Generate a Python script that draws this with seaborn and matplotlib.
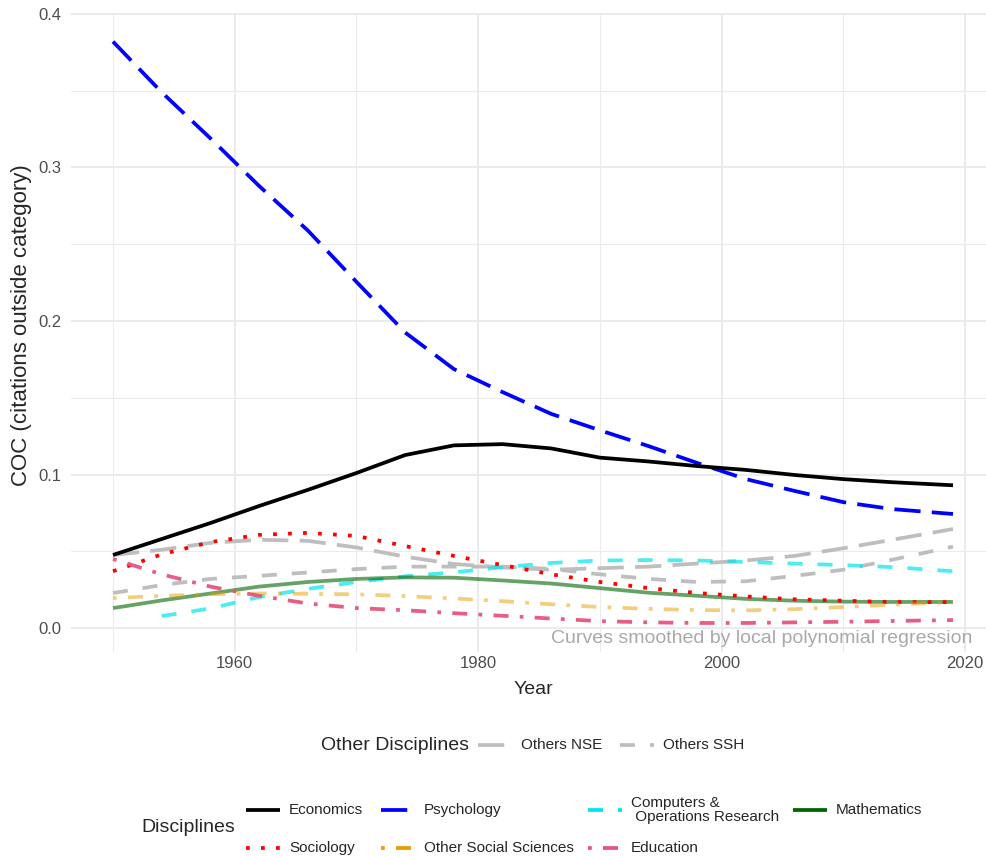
import matplotlib
matplotlib.use("Agg")
import numpy as np
import pandas as pd
import matplotlib.pyplot as plt
import seaborn as sns

# smoothed COC curves
years = [1950, 1954, 1958, 1962, 1966, 1970, 1974, 1978, 1982, 1986,
         1990, 1994, 1998, 2002, 2006, 2010, 2014, 2019]

economics = [0.0476, 0.058, 0.0684, 0.0795, 0.090, 0.101, 0.1127, 0.119, 0.1198, 0.117,
             0.111, 0.1085, 0.1055, 0.103, 0.0997, 0.097, 0.095, 0.093]
psychology = [0.382, 0.349, 0.319, 0.288, 0.259, 0.2255, 0.1925, 0.1687, 0.1537, 0.1395,
              0.1288, 0.1185, 0.1075, 0.097, 0.0893, 0.082, 0.0775, 0.0743]
computers = [np.nan, 0.0078, 0.0128, 0.0202, 0.0255, 0.030, 0.0337, 0.0363, 0.0396, 0.0424,
             0.044, 0.0443, 0.044, 0.043, 0.042, 0.041, 0.0397, 0.037]
mathematics = [0.013, 0.018, 0.0225, 0.027, 0.030, 0.032, 0.033, 0.0328, 0.031, 0.029,
               0.026, 0.023, 0.021, 0.019, 0.0178, 0.0172, 0.017, 0.017]
sociology = [0.037, 0.048, 0.056, 0.0607, 0.062, 0.060, 0.0534, 0.047, 0.041, 0.035,
             0.030, 0.026, 0.0228, 0.0206, 0.0187, 0.0178, 0.0169, 0.0169]
other_social = [0.0195, 0.021, 0.022, 0.0225, 0.0223, 0.022, 0.0208, 0.0193, 0.0175, 0.0155,
                0.0137, 0.0125, 0.0117, 0.0115, 0.0123, 0.0137, 0.0152, 0.017]
education = [0.045, 0.035, 0.027, 0.021, 0.016, 0.013, 0.0116, 0.0097, 0.008, 0.0062,
             0.0045, 0.0037, 0.0033, 0.0033, 0.0037, 0.0041, 0.0046, 0.0052]
others_nse = [0.0476, 0.051, 0.0555, 0.0575, 0.0568, 0.0525, 0.0465, 0.0417, 0.0395, 0.038,
              0.039, 0.040, 0.042, 0.044, 0.047, 0.052, 0.0575, 0.0645]
others_ssh = [0.0228, 0.028, 0.032, 0.034, 0.0362, 0.0384, 0.040, 0.040, 0.040, 0.0385,
              0.035, 0.032, 0.030, 0.0305, 0.034, 0.038, 0.0445, 0.053]

sns.set_theme(style="white")
plt.rcParams["font.family"] = ["Liberation Sans", "DejaVu Sans"]

LW = 2.7
DOTTED = (0, (1, 3))
DASHED = (0, (4, 4))
LONGDASH = (0, (7, 3))
DOTDASH = (0, (1, 3, 4, 3))

# name, values, color, alpha, linestyle, legend group
series = [
    ("Others NSE", others_nse, "#BEBEBE", 1.0, LONGDASH, "other"),
    ("Others SSH", others_ssh, "#BEBEBE", 1.0, DASHED, "other"),
    ("Psychology", psychology, "#0000FF", 1.0, LONGDASH, "main"),
    ("Economics", economics, "#000000", 1.0, "-", "main"),
    ("Computers &\n Operations Research", computers, "#00E5EE", 0.7, DASHED, "main"),
    ("Mathematics", mathematics, "#006400", 0.6, "-", "main"),
    ("Sociology", sociology, "#FF0000", 1.0, DOTTED, "main"),
    ("Other Social Sciences", other_social, "#E69F00", 0.5, DOTDASH, "main"),
    ("Education", education, "#E75480", 0.95, DOTDASH, "main"),
]

W, H = 987, 856
fig = plt.figure(figsize=(W / 100, H / 100), dpi=100)
ax = fig.add_axes([71 / W, 1 - 652 / H, (995 - 71) / W, (652 - 12.6) / H])

for name, vals, col, a, ls, grp in series:
    d = pd.DataFrame({"year": years, "coc": vals}).dropna()
    sns.lineplot(data=d, x="year", y="coc", color=col, alpha=a, linestyle=ls,
                 linewidth=LW, ax=ax, solid_capstyle="butt", dash_capstyle="butt")

ax.set_xlim(1946.55, 2022.45)
ax.set_ylim(-0.0156, 0.4009)
ax.set_xticks([1960, 1980, 2000, 2020])
ax.set_xticks([1950, 1970, 1990, 2010], minor=True)
ax.set_yticks([0.0, 0.1, 0.2, 0.3, 0.4])
ax.set_yticklabels(["0.0", "0.1", "0.2", "0.3", "0.4"])
ax.set_yticks([0.05, 0.15, 0.25, 0.35], minor=True)
ax.grid(which="major", color="#EBEBEB", linewidth=1.4)
ax.grid(which="minor", color="#EBEBEB", linewidth=0.75)
ax.set_axisbelow(True)
for s in ax.spines.values():
    s.set_visible(False)
ax.tick_params(which="both", length=0, labelsize=12, labelcolor="#4D4D4D")
ax.tick_params(axis="x", pad=3)
ax.tick_params(axis="y", pad=7)
ax.set_xlabel("")
ax.set_ylabel("")

ax.text(2020.6, -0.0068, "Curves smoothed by local polynomial regression",
        ha="right", va="center", fontsize=14, color="#A9A9A9")

fig.text(533 / W, 1 - 690 / H, "Year", ha="center", va="center", fontsize=14)
fig.text(22 / W, 1 - 325 / H, "COC (citations outside category)", rotation=90,
         ha="center", va="center", fontsize=16)

# legends drawn on a transparent overlay in pixel units
lg = fig.add_axes([0, 0, 1, 1])
lg.set_xlim(0, W)
lg.set_ylim(H, 0)
lg.axis("off")

style = {name: (col, ls) for name, vals, col, a, ls, grp in series}


def key(x, y, name):
    col, ls = style[name]
    lg.plot([x, x + 34], [y, y], color=col, linestyle=ls, linewidth=LW,
            solid_capstyle="butt", dash_capstyle="butt")
    lg.text(x + 43, y, name, ha="left", va="center", fontsize=11, linespacing=1.05)


lg.text(321, 745, "Other Disciplines", ha="left", va="center", fontsize=14)
key(478, 745, "Others NSE")
key(620, 745, "Others SSH")

lg.text(141, 828, "Disciplines", ha="left", va="center", fontsize=14)
row1 = ["Economics", "Psychology", "Computers &\n Operations Research", "Mathematics"]
row2 = ["Sociology", "Other Social Sciences", "Education"]
cols = [246, 381, 588, 793]
for x, n in zip(cols, row1):
    key(x, 810, n)
for x, n in zip(cols, row2):
    key(x, 848, n)

fig.savefig("out.png", dpi=100)
